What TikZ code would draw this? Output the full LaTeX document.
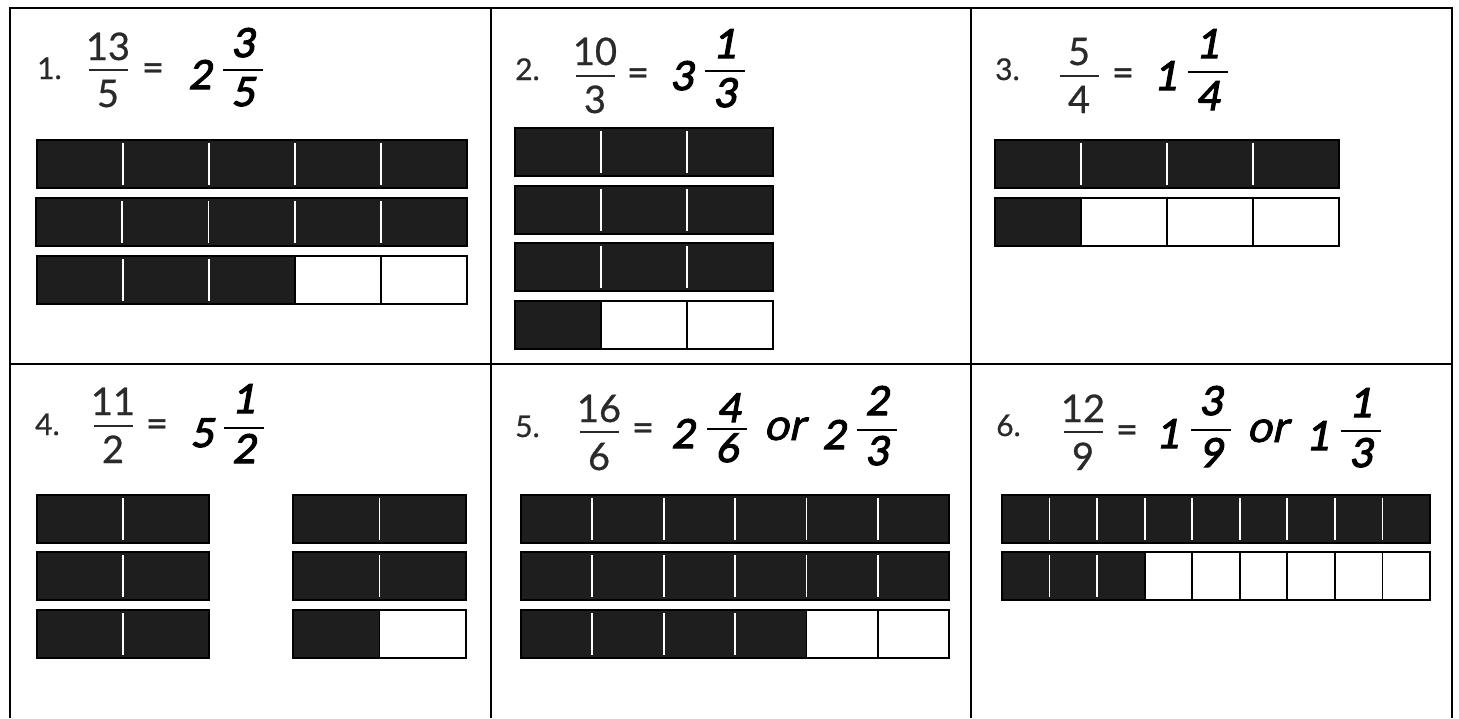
\documentclass[tikz,border=0pt]{standalone}
\usepackage{fontspec}
\setmainfont{Lato}
\newfontfamily\prtfont[FakeBold=0.7]{Lato}
\newfontfamily\handfont[FakeBold=3,FakeSlant=0.18]{Lato}
\newfontfamily\orfont[FakeBold=1.6,FakeSlant=0.22]{Lato}
\definecolor{barfill}{HTML}{1E1E1E}
\definecolor{printcol}{HTML}{2A2A2A}
\tikzset{
  gridline/.style={line width=2.4pt, black},
  barline/.style={line width=2pt, black},
  prt/.style={inner sep=0pt, text=printcol, font=\prtfont\fontsize{38}{40}\selectfont},
  lbl/.style={inner sep=0pt, anchor=base west, text=printcol, font=\prtfont\fontsize{30}{34}\selectfont},
  hnd/.style={inner sep=0pt, text=black, font=\handfont\fontsize{40}{44}\selectfont},
  orw/.style={inner sep=0pt, anchor=base, text=black, font=\orfont\fontsize{44}{46}\selectfont},
  prtbar/.style={line width=2.4pt, printcol},
  hndbar/.style={line width=2.8pt, black},
}
% #1 x, #2 y (top), #3 parts, #4 filled parts, #5 part width
\newcommand\myBar[5]{%
  \fill[white] (#1,#2) rectangle ++(#3*#5,48);
  \fill[barfill] (#1,#2) rectangle ++(#4*#5,48);
  \foreach \i in {1,...,#3}{%
    \ifnum\i<#3
      \ifnum\i<#4
        \draw[white,line width=1.8pt] (#1+\i*#5,#2+3) -- ++(0,42);
      \else
        \draw[black,line width=1.8pt] (#1+\i*#5,#2) -- ++(0,48);
      \fi
    \fi
  }%
  \draw[barline] (#1,#2) rectangle ++(#3*#5,48);
}
% printed fraction: name, center x, num, den, num base, bar y, den base
\newcommand\prtFrac[7]{%
  \node[prt, anchor=base] (#1n) at (#2,#5) {#3};
  \node[prt, anchor=base] (#1d) at (#2,#7) {#4};
  \coordinate (#1a) at (#2-19.5,#6);
  \coordinate (#1b) at (#2+19.5,#6);
  \draw[prtbar] (#1a) -- (#1b);
}
% hand fraction: name, bar center x, num, den, num base, bar y, den base, num x offset
\newcommand\hndFrac[8]{%
  \node[hnd, anchor=base] (#1n) at (#2+#8,#5) {#3};
  \node[hnd, anchor=base] (#1d) at (#2,#7) {#4};
  \coordinate (#1a) at (#2-20,#6);
  \coordinate (#1b) at (#2+20,#6);
  \draw[hndbar] (#1a) -- (#1b);
}
\begin{document}
\begin{tikzpicture}[x=1pt,y=-1pt]
\useasboundingbox (0,0) rectangle (1459,718);
\fill[white] (0,0) rectangle (1459,718);
% grid
\coordinate (gTL) at (10,8);
\coordinate (gTR) at (1452,8);
\coordinate (gBL) at (10,718);
\coordinate (gBR) at (1452,718);
\draw[gridline] (gBL) -- (gTL) -- (gTR) -- (gBR);
\draw[gridline] (10,364) -- (1452,364);
\draw[gridline] (491,8) -- (491,718);
\draw[gridline] (971,8) -- (971,718);

% ---- cell 1
\node[lbl] (l1) at (37,79) {1.};
\prtFrac{p1}{108}{13}{5}{60}{70}{107}
\node[prt, anchor=center] (e1) at (153,72) {=};
\node[hnd, anchor=base] (w1) at (200,89) {2};
\hndFrac{h1}{243}{3}{5}{57}{70}{106}{0}
\myBar{37}{140}{5}{5}{86}
\myBar{36}{198}{5}{5}{86.2}
\myBar{37}{256}{5}{3}{86}

% ---- cell 2
\node[lbl] (l2) at (515,80) {2.};
\prtFrac{p2}{595}{10}{3}{65}{76}{113}
\node[prt, anchor=center] (e2) at (638,77) {=};
\node[hnd, anchor=base] (w2) at (682,90) {3};
\hndFrac{h2}{725}{1}{3}{58}{71}{107}{0}
\myBar{515}{128}{3}{3}{86}
\myBar{515}{186}{3}{3}{86}
\myBar{515}{243}{3}{3}{86}
\myBar{515}{301}{3}{1}{86}

% ---- cell 3
\node[lbl] (l3) at (995,80) {3.};
\prtFrac{p3}{1079}{5}{4}{65}{76}{113}
\node[prt, anchor=center] (e3) at (1123,77) {=};
\node[hnd, anchor=base] (w3) at (1166,90) {1};
\hndFrac{h3}{1208}{1}{4}{58}{72}{110}{0}
\myBar{995}{140}{4}{4}{86}
\myBar{995}{198}{4}{1}{86}

% ---- cell 4
\node[lbl] (l4) at (35,435) {4.};
\prtFrac{p4}{113}{11}{2}{415}{426}{463}
\node[prt, anchor=center] (e4) at (157,428) {=};
\node[hnd, anchor=base] (w4) at (202,447) {5};
\hndFrac{h4}{244}{1}{2}{413}{428}{463}{0}
\myBar{37}{495}{2}{2}{86}
\myBar{37}{552}{2}{2}{86}
\myBar{37}{610}{2}{2}{86}
\myBar{293}{495}{2}{2}{86.5}
\myBar{293}{552}{2}{2}{86.5}
\myBar{293}{610}{2}{1}{86.5}

% ---- cell 5
\node[lbl] (l5) at (515,437) {5.};
\prtFrac{p5}{599}{16}{6}{422}{432}{470}
\node[prt, anchor=center] (e5) at (643,432) {=};
\node[hnd, anchor=base] (w5) at (683,448) {2};
\hndFrac{h5}{727}{4}{6}{422}{429}{462}{2}
\node[orw] (o5) at (784,440) {or};
\node[hnd, anchor=base] (x5) at (834,449) {2};
\hndFrac{k5}{877}{2}{3}{415}{430}{465}{0}
\myBar{521}{495}{6}{6}{71.35}
\myBar{521}{552}{6}{6}{71.35}
\myBar{521}{610}{6}{4}{71.35}

% ---- cell 6
\node[lbl] (l6) at (996,436) {6.};
\prtFrac{p6}{1083}{12}{9}{422}{432}{470}
\node[prt, anchor=center] (e6) at (1127,434) {=};
\node[hnd, anchor=base] (w6) at (1168,448) {1};
\hndFrac{h6}{1211}{3}{9}{415}{430}{467}{0}
\node[orw] (o6) at (1267,442) {or};
\node[hnd, anchor=base] (x6) at (1318,450) {1};
\hndFrac{k6}{1361}{1}{3}{417}{431}{467}{0}
\myBar{1002}{495}{9}{9}{47.56}
\myBar{1002}{552}{9}{3}{47.56}
\end{tikzpicture}
\end{document}
